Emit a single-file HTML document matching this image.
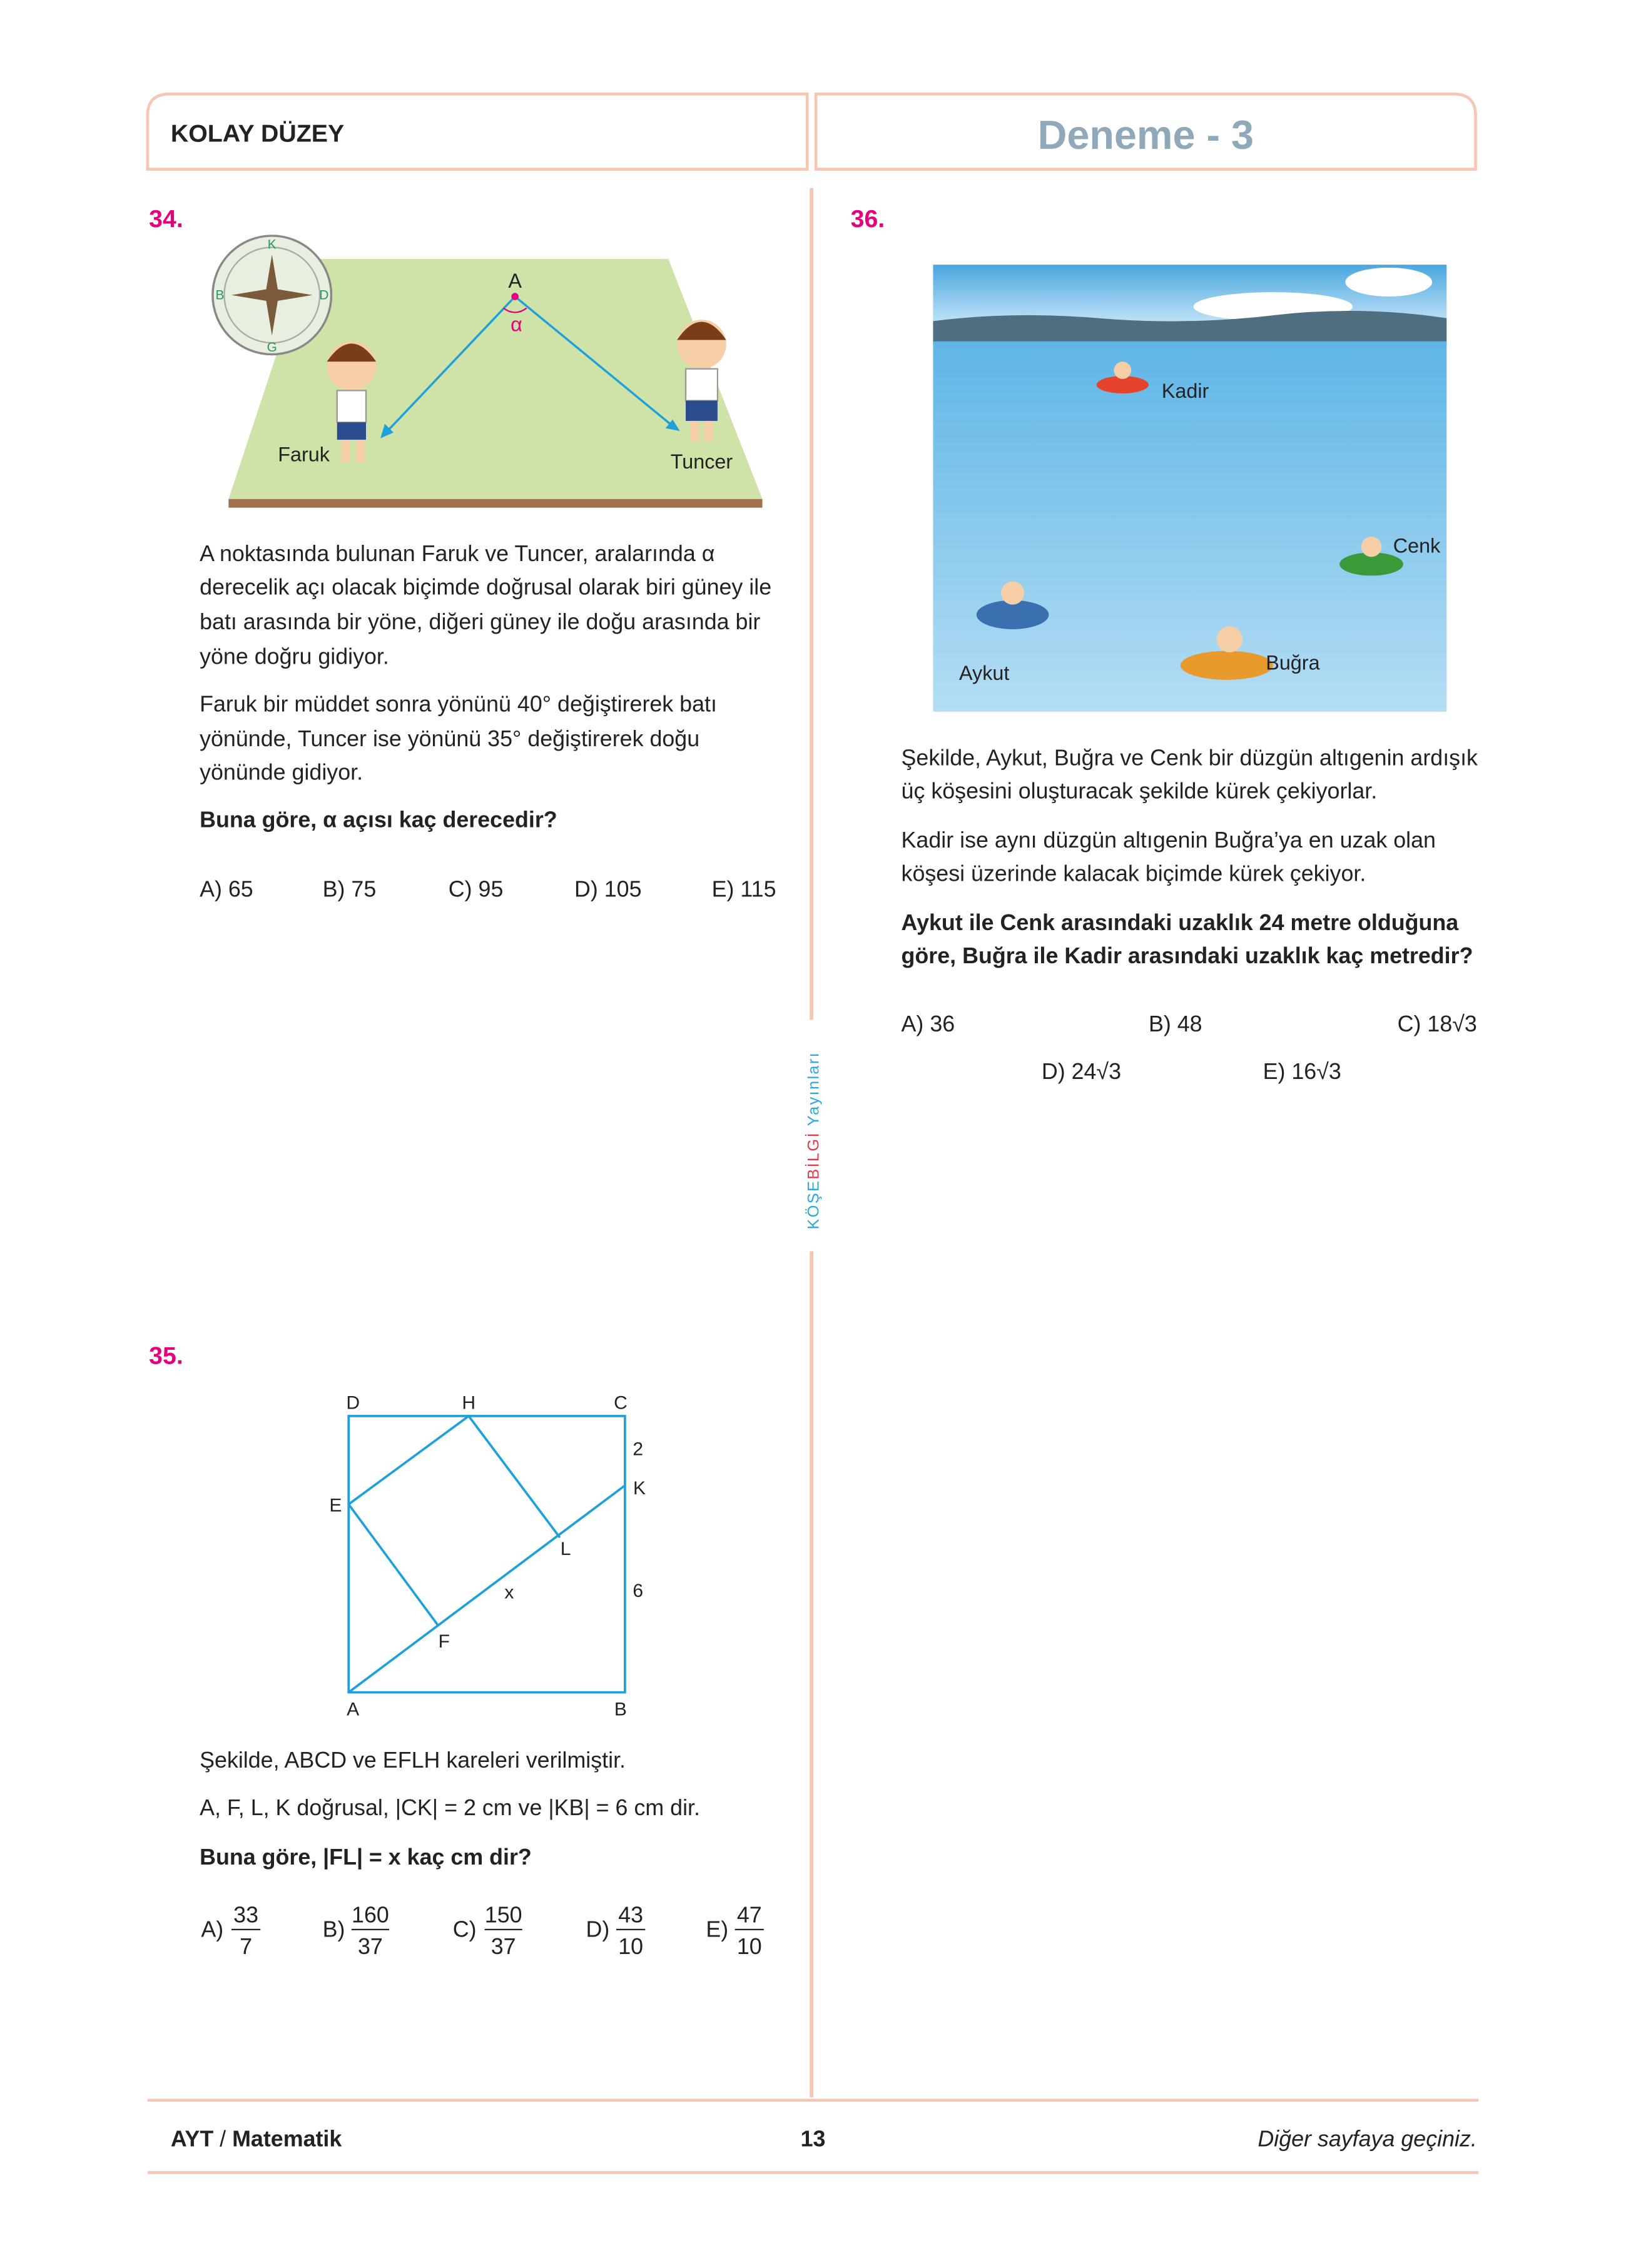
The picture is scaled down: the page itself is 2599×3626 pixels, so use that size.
<!DOCTYPE html>
<html><head><meta charset="utf-8"><style>
html,body{margin:0;padding:0;background:#fff}
svg{display:block}
text{font-family:"Liberation Sans",sans-serif}
</style></head><body>
<svg width="2599" height="3626" viewBox="0 0 1124 1568" preserveAspectRatio="none" xmlns="http://www.w3.org/2000/svg">
<rect width="1124" height="1568" fill="#fff"/>
<g>
<path d="M102,117 V80 Q102,65 117,65 H558 V117 Z" fill="none" stroke="#f6c6b4" stroke-width="2"/>
<path d="M564,117 V65 H1005 Q1020,65 1020,80 V117 Z" fill="none" stroke="#f6c6b4" stroke-width="2"/>
<text x="118" y="98" font-size="17" font-weight="bold" fill="#222">KOLAY DÜZEY</text>
<text x="792" y="103" font-size="28" font-weight="bold" fill="#8fa9ba" text-anchor="middle">Deneme - 3</text>
</g>
<g>
<line x1="561" y1="130" x2="561" y2="705" stroke="#f6c6b4" stroke-width="2.5"/>
<line x1="561" y1="865" x2="561" y2="1450" stroke="#f6c6b4" stroke-width="2.5"/>
<text transform="translate(566,850) rotate(-90)" font-size="11" fill="#29a8e0" letter-spacing="1">KÖŞE<tspan fill="#e5374a">BİLGİ</tspan> Yayınları</text>
</g>
<g>
<text x="103" y="157" font-size="17" font-weight="bold" fill="#e5007e">34.</text>
<polygon points="213,179 462,179 527,345 158,345" fill="#cfe3a8"/>
<rect x="158" y="345" width="369" height="6" fill="#a0714a"/>
<g>
<circle cx="188" cy="204" r="41" fill="#e8eee0" stroke="#888" stroke-width="1.5"/>
<circle cx="188" cy="204" r="33" fill="none" stroke="#aaa"/>
<polygon points="188,176 192,200 216,204 192,208 188,232 184,208 160,204 184,200" fill="#7a5a3a"/>
<text x="188" y="172" font-size="9" fill="#2a9a5a" text-anchor="middle">K</text>
<text x="188" y="243" font-size="9" fill="#2a9a5a" text-anchor="middle">G</text>
<text x="152" y="207" font-size="9" fill="#2a9a5a" text-anchor="middle">B</text>
<text x="224" y="207" font-size="9" fill="#2a9a5a" text-anchor="middle">D</text>
</g>
<line x1="356" y1="205" x2="265" y2="301" stroke="#1ea0dc" stroke-width="1.5"/>
<line x1="356" y1="205" x2="468" y2="297" stroke="#1ea0dc" stroke-width="1.5"/>
<polygon points="263,303 266,293 272,299" fill="#1ea0dc"/>
<polygon points="470,298 460,296 465,290" fill="#1ea0dc"/>
<circle cx="356" cy="205" r="2.5" fill="#e5007e"/>
<path d="M348,213 Q356,219 364,213" fill="none" stroke="#e5007e"/>
<text x="356" y="199" font-size="14" fill="#222" text-anchor="middle">A</text>
<text x="357" y="229" font-size="14" fill="#e5007e" text-anchor="middle">α</text>
<g>
<circle cx="243" cy="253" r="17" fill="#f6cfa6"/><path d="M226,250 Q243,225 260,250" fill="#7a3d18"/>
<rect x="233" y="270" width="20" height="22" fill="#fff" stroke="#999"/><rect x="233" y="292" width="20" height="12" fill="#2b4c8c"/>
<rect x="236" y="304" width="6" height="16" fill="#f6cfa6"/><rect x="246" y="304" width="6" height="16" fill="#f6cfa6"/>
</g>
<g>
<circle cx="485" cy="238" r="17" fill="#f6cfa6"/><path d="M468,235 Q485,210 502,235" fill="#7a3d18"/>
<rect x="474" y="255" width="22" height="22" fill="#fff" stroke="#999"/><rect x="474" y="277" width="22" height="14" fill="#2b4c8c"/>
<rect x="477" y="291" width="6" height="14" fill="#f6cfa6"/><rect x="487" y="291" width="6" height="14" fill="#f6cfa6"/>
</g>
<text x="210" y="319" font-size="14" fill="#222" text-anchor="middle">Faruk</text>
<text x="485" y="324" font-size="14" fill="#222" text-anchor="middle">Tuncer</text>
<g font-size="15.5" fill="#222">
<text x="138" y="388">A noktasında bulunan Faruk ve Tuncer, aralarında α</text>
<text x="138" y="411">derecelik açı olacak biçimde doğrusal olarak biri güney ile</text>
<text x="138" y="435">batı arasında bir yöne, diğeri güney ile doğu arasında bir</text>
<text x="138" y="459">yöne doğru gidiyor.</text>
<text x="138" y="492">Faruk bir müddet sonra yönünü 40° değiştirerek batı</text>
<text x="138" y="516">yönünde, Tuncer ise yönünü 35° değiştirerek doğu</text>
<text x="138" y="539">yönünde gidiyor.</text>
<text x="138" y="572" font-weight="bold">Buna göre,  α  açısı kaç derecedir?</text>
<text x="138" y="620">A) 65</text><text x="223" y="620">B) 75</text><text x="310" y="620">C) 95</text><text x="397" y="620">D) 105</text><text x="492" y="620">E) 115</text>
</g>
</g>
<g>
<text x="588" y="157" font-size="17" font-weight="bold" fill="#e5007e">36.</text>
<defs><linearGradient id="sea" x1="0" y1="0" x2="0" y2="1"><stop offset="0" stop-color="#5fb6e6"/><stop offset="1" stop-color="#b4ddf4"/></linearGradient>
<linearGradient id="sky" x1="0" y1="0" x2="0" y2="1"><stop offset="0" stop-color="#4aa6e0"/><stop offset="1" stop-color="#bfe2f6"/></linearGradient></defs>
<rect x="645" y="183" width="355" height="40" fill="url(#sky)"/>
<ellipse cx="880" cy="212" rx="55" ry="10" fill="#fff"/><ellipse cx="960" cy="195" rx="30" ry="10" fill="#fff"/>
<path d="M645,222 Q700,215 760,220 T880,218 T1000,220 V238 H645 Z" fill="#4f6f80"/>
<rect x="645" y="236" width="355" height="256" fill="url(#sea)"/>
<ellipse cx="776" cy="266" rx="18" ry="6" fill="#e5432c"/><ellipse cx="948" cy="390" rx="22" ry="8" fill="#3a9a3a"/>
<ellipse cx="700" cy="425" rx="25" ry="10" fill="#3a6fb0"/><ellipse cx="848" cy="460" rx="32" ry="10" fill="#e89a2c"/>
<circle cx="776" cy="256" r="6" fill="#f6cfa6"/><circle cx="948" cy="378" r="7" fill="#f6cfa6"/><circle cx="700" cy="410" r="8" fill="#f6cfa6"/><circle cx="850" cy="442" r="9" fill="#f6cfa6"/>
<g font-size="14" fill="#222"><text x="803" y="275">Kadir</text><text x="963" y="382">Cenk</text><text x="663" y="470">Aykut</text><text x="875" y="463">Buğra</text></g>
<g font-size="15.5" fill="#222">
<text x="623" y="529">Şekilde, Aykut, Buğra ve Cenk bir düzgün altıgenin ardışık</text>
<text x="623" y="552">üç köşesini oluşturacak şekilde kürek çekiyorlar.</text>
<text x="623" y="586">Kadir ise aynı düzgün altıgenin Buğra’ya en uzak olan</text>
<text x="623" y="609">köşesi üzerinde kalacak biçimde kürek çekiyor.</text>
<text x="623" y="643" font-weight="bold">Aykut ile Cenk arasındaki uzaklık 24 metre olduğuna</text>
<text x="623" y="666" font-weight="bold">göre, Buğra ile Kadir arasındaki uzaklık kaç metredir?</text>
<text x="623" y="713">A) 36</text><text x="794" y="713">B) 48</text><text x="966" y="713">C) 18√3</text>
<text x="720" y="746">D) 24√3</text><text x="873" y="746">E) 16√3</text>
</g>
</g>
<g>
<text x="103" y="943" font-size="17" font-weight="bold" fill="#e5007e">35.</text>
<g stroke="#1ea0dc" stroke-width="1.6" fill="none">
<rect x="241" y="979" width="191" height="191"/>
<polyline points="241,1040 324,979 387,1063"/>
<line x1="241" y1="1040" x2="303" y2="1124"/>
<line x1="241" y1="1170" x2="432" y2="1027"/>
</g>
<g font-size="13" fill="#222">
<text x="244" y="974" text-anchor="middle">D</text><text x="324" y="974" text-anchor="middle">H</text><text x="429" y="974" text-anchor="middle">C</text>
<text x="232" y="1045" text-anchor="middle">E</text><text x="441" y="1006" text-anchor="middle">2</text><text x="442" y="1033" text-anchor="middle">K</text>
<text x="391" y="1075" text-anchor="middle">L</text><text x="352" y="1105" text-anchor="middle">x</text><text x="441" y="1104" text-anchor="middle">6</text>
<text x="307" y="1139" text-anchor="middle">F</text><text x="244" y="1186" text-anchor="middle">A</text><text x="429" y="1186" text-anchor="middle">B</text>
</g>
<g font-size="15.5" fill="#222">
<text x="138" y="1222">Şekilde, ABCD ve EFLH kareleri verilmiştir.</text>
<text x="138" y="1255">A, F, L, K doğrusal, |CK| = 2 cm ve |KB| = 6 cm dir.</text>
<text x="138" y="1289" font-weight="bold">Buna göre,  |FL| = x  kaç cm dir?</text>
<text x="139" y="1339">A)</text><text x="170" y="1329" text-anchor="middle">33</text><text x="170" y="1351" text-anchor="middle">7</text>
<text x="223" y="1339">B)</text><text x="256" y="1329" text-anchor="middle">160</text><text x="256" y="1351" text-anchor="middle">37</text>
<text x="313" y="1339">C)</text><text x="348" y="1329" text-anchor="middle">150</text><text x="348" y="1351" text-anchor="middle">37</text>
<text x="405" y="1339">D)</text><text x="436" y="1329" text-anchor="middle">43</text><text x="436" y="1351" text-anchor="middle">10</text>
<text x="488" y="1339">E)</text><text x="518" y="1329" text-anchor="middle">47</text><text x="518" y="1351" text-anchor="middle">10</text>
</g>
<g stroke="#222" stroke-width="1">
<line x1="160" y1="1334" x2="180" y2="1334"/><line x1="243" y1="1334" x2="269" y2="1334"/><line x1="335" y1="1334" x2="361" y2="1334"/><line x1="426" y1="1334" x2="446" y2="1334"/><line x1="508" y1="1334" x2="528" y2="1334"/>
</g>
</g>
<g>
<line x1="102" y1="1452" x2="1022" y2="1452" stroke="#f6c6b4" stroke-width="2"/>
<line x1="102" y1="1502" x2="1022" y2="1502" stroke="#f6c6b4" stroke-width="2"/>
<text x="118" y="1484" font-size="15.5" font-weight="bold" fill="#222">AYT <tspan font-weight="normal">/</tspan> Matematik</text>
<text x="562" y="1484" font-size="15.5" font-weight="bold" fill="#222" text-anchor="middle">13</text>
<text x="1021" y="1484" font-size="15.5" font-style="italic" fill="#222" text-anchor="end">Diğer sayfaya geçiniz.</text>
</g>
</svg>
</body></html>
